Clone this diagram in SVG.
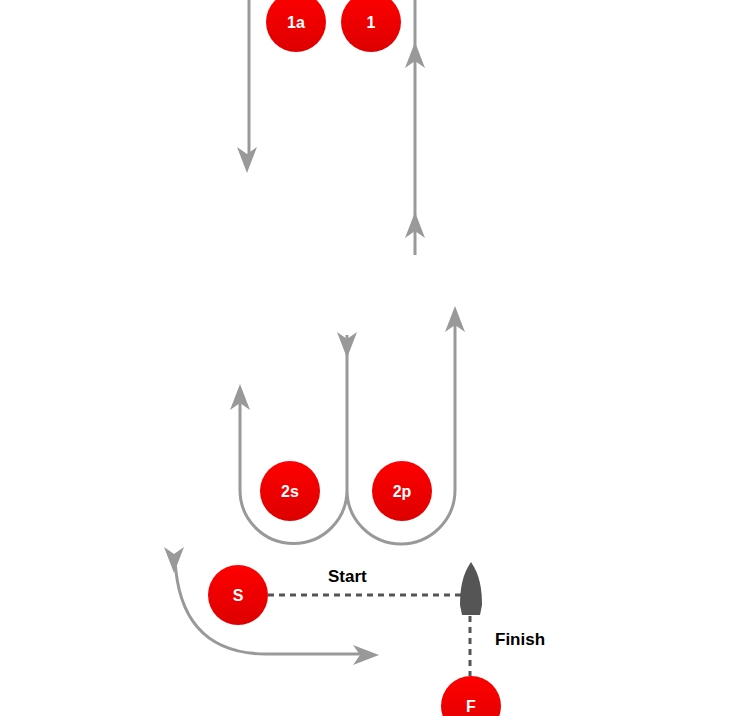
<svg xmlns="http://www.w3.org/2000/svg" width="750" height="716" viewBox="0 0 750 716">
<defs>
<style>
.trk{fill:none;stroke:#999;stroke-width:3}
.ah{fill:#999}
.dash{fill:none;stroke:#555;stroke-width:3;stroke-dasharray:6 5}
.mk{fill:url(#rg)}
.lbl{font-family:"Liberation Sans",Arial,sans-serif;font-weight:bold;font-size:16px;fill:#fff;text-anchor:middle}
.cap{font-family:"Liberation Sans",Arial,sans-serif;font-weight:bold;font-size:17px;fill:#000}
</style>
<linearGradient id="rg" x1="0" y1="0" x2="0" y2="1"><stop offset="0" stop-color="#ff0000"/><stop offset="1" stop-color="#dd0000"/></linearGradient>
<path id="ah" d="M0,0 L-10,26 L0,19 L10,26 Z"/>
</defs>
<g id="connectors">
<path class="trk" d="M249,0 V160"/>
<use href="#ah" class="ah" transform="translate(247,173) rotate(180)"/>
<path class="trk" d="M415,0 V255"/>
<use href="#ah" class="ah" transform="translate(415,42)"/>
<use href="#ah" class="ah" transform="translate(415,212)"/>
<path class="trk" d="M240,395 V490 A53.5,53.5 0 0 0 347,490 A54,54 0 0 0 455,490 V318"/>
<use href="#ah" class="ah" transform="translate(240,384)"/>
<use href="#ah" class="ah" transform="translate(455,306)"/>
<path class="trk" d="M347,335 V490"/>
<use href="#ah" class="ah" transform="translate(347,358) rotate(180)"/>
<path class="trk" d="M175,560 Q180,653 265,654 H368"/>
<use href="#ah" class="ah" transform="translate(174,573) rotate(180)"/>
<use href="#ah" class="ah" transform="translate(379,655) rotate(90)"/>
<path class="dash" d="M268,595 H462"/>
<path class="dash" d="M470,616 V676"/>
</g>
<g id="n1a"><circle class="mk" cx="296" cy="22" r="30"/><text class="lbl" x="296" y="28">1a</text></g>
<g id="n1"><circle class="mk" cx="371" cy="22" r="30"/><text class="lbl" x="371" y="28">1</text></g>
<g id="n2s"><circle class="mk" cx="290" cy="491" r="30"/><text class="lbl" x="290" y="497">2s</text></g>
<g id="n2p"><circle class="mk" cx="402" cy="491" r="30"/><text class="lbl" x="402" y="497">2p</text></g>
<g id="nS"><circle class="mk" cx="238" cy="595" r="30"/><text class="lbl" x="238" y="601">S</text></g>
<g id="nF"><circle class="mk" cx="471" cy="706" r="30"/><text class="lbl" x="471" y="712">F</text></g>
<g id="boat"><path d="M471,562 C480,575 482,590 482,605 L480,615 H462 L460,605 C460,590 462,575 471,562 Z" fill="#555"/></g>
<g id="labels"><text class="cap" x="328" y="582">Start</text><text class="cap" x="495" y="645">Finish</text></g>
</svg>
